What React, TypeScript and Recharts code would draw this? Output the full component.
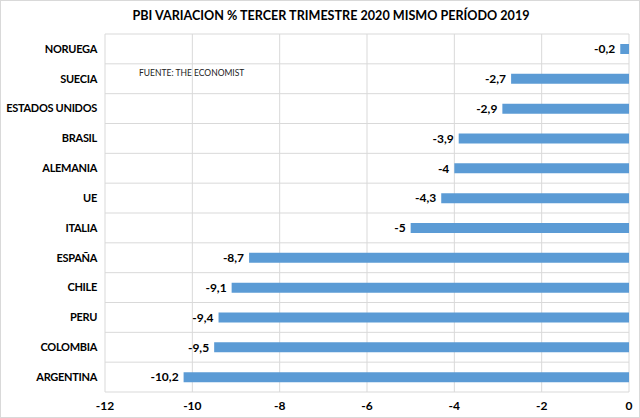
import { BarChart, Bar, XAxis, YAxis, CartesianGrid, LabelList } from "recharts";

const countries = [
  "NORUEGA",
  "SUECIA",
  "ESTADOS UNIDOS",
  "BRASIL",
  "ALEMANIA",
  "UE",
  "ITALIA",
  "ESPAÑA",
  "CHILE",
  "PERU",
  "COLOMBIA",
  "ARGENTINA",
];

const variation = [-0.2, -2.7, -2.9, -3.9, -4, -4.3, -5, -8.7, -9.1, -9.4, -9.5, -10.2];

const xTicks = [-12, -10, -8, -6, -4, -2, 0];

const data = countries.map((name, i) => ({ name, value: variation[i] }));

const FONT = "Lato, 'Open Sans', sans-serif";
const fmt = (v: number) => String(v).replace(".", ",");

function ValueLabel(props: any) {
  const { x, y, width, height, value } = props;
  const left = Math.min(Number(x), Number(x) + Number(width));
  return (
    <text
      x={left - 5}
      y={Number(y) + Number(height) / 2}
      dy="0.35em"
      textAnchor="end"
      fontSize={12}
      fontWeight={700}
      fill="#000"
      fontFamily={FONT}
    >
      {fmt(Number(value))}
    </text>
  );
}

function CountryTick(props: any) {
  const { x, y, payload } = props;
  return (
    <text
      x={x}
      y={y}
      dy="0.35em"
      textAnchor="end"
      fontSize={11}
      fontWeight={700}
      letterSpacing={-0.3}
      fill="#000"
      fontFamily={FONT}
    >
      {payload.value}
    </text>
  );
}

export default function App() {
  return (
    <div
      style={{
        position: "absolute",
        left: 0,
        top: 0,
        width: 640,
        height: 418,
        boxSizing: "border-box",
        border: "1px solid #d9d9d9",
        background: "#fff",
        fontFamily: FONT,
      }}
    >
      <div
        style={{
          position: "absolute",
          top: 7,
          left: 0,
          width: 660,
          textAlign: "center",
          fontSize: 12.6,
          fontWeight: 700,
          color: "#000",
        }}
      >
        PBI VARIACION % TERCER TRIMESTRE 2020 MISMO PERÍODO 2019
      </div>
      <div
        style={{
          position: "absolute",
          top: 67,
          left: 138,
          fontSize: 8.5,
          color: "#222",
        }}
      >
        FUENTE: THE ECONOMIST
      </div>
      <BarChart
        layout="vertical"
        width={638}
        height={416}
        data={data}
        margin={{ top: 33, right: 10, bottom: 5, left: 0 }}
        barCategoryGap={0}
      >
        <CartesianGrid
          stroke="#d9d9d9"
          horizontalCoordinatesGenerator={({ offset }: any) =>
            countries
              .map((_, i) => offset.top + (i * offset.height) / countries.length)
              .concat(offset.top + offset.height)
          }
        />
        <XAxis
          type="number"
          domain={[-12, 0]}
          ticks={xTicks}
          height={20}
          axisLine={false}
          tickLine={false}
          tick={{ fontSize: 12, fontWeight: 700, fill: "#000", fontFamily: FONT }}
          tickMargin={3}
        />
        <YAxis
          type="category"
          dataKey="name"
          width={104}
          axisLine={false}
          tickLine={false}
          tick={CountryTick}
        />
        <Bar dataKey="value" fill="#5b9bd5" barSize={10} isAnimationActive={false}>
          <LabelList dataKey="value" content={ValueLabel} />
        </Bar>
      </BarChart>
    </div>
  );
}
